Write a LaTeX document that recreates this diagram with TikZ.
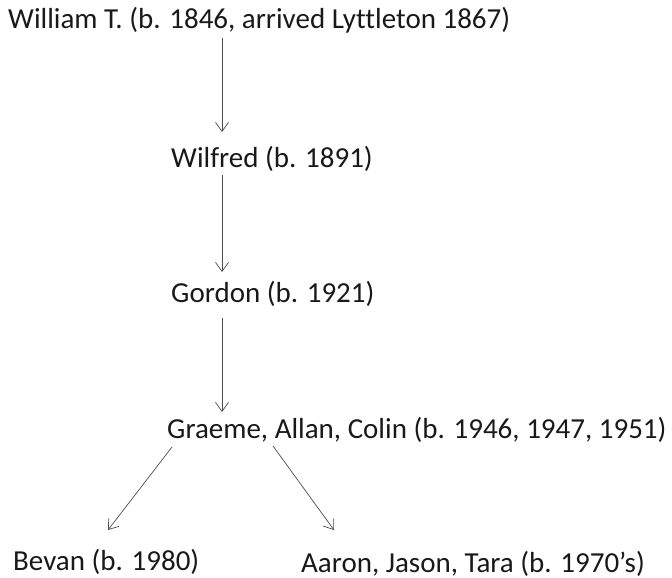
\documentclass[tikz,border=0pt]{standalone}
\usepackage{fontspec}
\setmainfont[Ligatures=NoCommon]{Carlito}
\usetikzlibrary{arrows.meta}

\tikzset{
  person/.style={anchor=base west, inner sep=0pt, font=\fontsize{29}{34}\selectfont, text=black!90},
  descent/.style={draw=black!70, line width=0.7pt, -{Straight Barb[length=9pt,width=13pt,line width=0.7pt]}}
}

\begin{document}
\begin{tikzpicture}[x=1pt, y=1pt]
    \useasboundingbox (0,0) rectangle (672,-578);
    \node[person] (william) at (8,-29) {William T. (b. 1846, arrived Lyttleton 1867)};
    \node[person] (wilfred) at (171,-167) {Wilfred (b. 1891)};
    \node[person] (gordon) at (171,-302) {Gordon (b. 1921)};
    \node[person] (brothers) at (167,-438) {Graeme, Allan, Colin (b. 1946, 1947, 1951)};
    \node[person] (bevan) at (13,-570) {Bevan (b. 1980)};
    \node[person] (cousins) at (301,-572) {Aaron, Jason, Tara (b. 1970’s)};
    % line of descent
    \draw[descent] ([shift={(214,-9)}]william.base west) -- ([shift={(51,35)}]wilfred.base west);
    \draw[descent] ([shift={(51,-8)}]wilfred.base west) -- ([shift={(51,30)}]gordon.base west);
    \draw[descent] ([shift={(51,-16)}]gordon.base west) -- ([shift={(55,26)}]brothers.base west);
    \draw[descent] ([shift={(5,-9)}]brothers.base west) -- ([shift={(95,40)}]bevan.base west);
    \draw[descent] ([shift={(106,-8)}]brothers.base west) -- ([shift={(33,42)}]cousins.base west);
\end{tikzpicture}
\end{document}
